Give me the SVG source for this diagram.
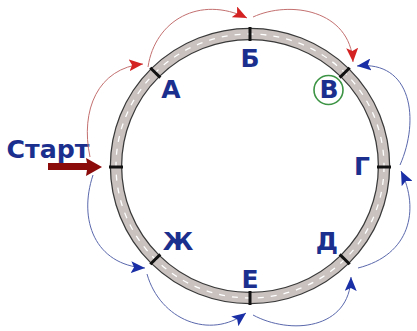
<svg xmlns="http://www.w3.org/2000/svg" width="417" height="331" viewBox="0 0 417 331">
<style>
.lbl{font-family:"DejaVu Sans","Liberation Sans",Arial,sans-serif;font-weight:bold;font-size:25px;fill:#1b2f8e;text-anchor:middle}
.red{fill:none;stroke:#c47070;stroke-width:1}
.blue{fill:none;stroke:#5a68ac;stroke-width:1}
.tick{stroke:#111;stroke-width:3}
</style>
<defs>
<marker id="ar" markerUnits="userSpaceOnUse" markerWidth="14" markerHeight="12" viewBox="0 0 14 12" refX="14" refY="6" orient="auto">
<path d="M0,0 L14,6 L0,12 L3,6 z" fill="#d42222"/>
</marker>
<marker id="ab" markerUnits="userSpaceOnUse" markerWidth="14" markerHeight="12" viewBox="0 0 14 12" refX="14" refY="6" orient="auto">
<path d="M0,0 L14,6 L0,12 L3,6 z" fill="#1a2fa6"/>
</marker>
</defs>
<rect width="417" height="331" fill="#fff"/>
<g id="road">
<ellipse cx="250" cy="166" rx="134" ry="132" fill="none" stroke="#3a3a3a" stroke-width="12.5"/>
<ellipse cx="250" cy="166" rx="134" ry="132" fill="none" stroke="#c9c2bf" stroke-width="10"/>
<ellipse cx="250" cy="166" rx="134" ry="132" fill="none" stroke="#fff" stroke-width="1.3" stroke-dasharray="6 7"/>
</g>
<g id="start">
<text x="48" y="158" class="lbl" font-size="21" textLength="83" lengthAdjust="spacingAndGlyphs">Старт</text>
<path d="M48,163 L87,163 L86,158 L102,167 L86,176 L87,170 L48,170 z" fill="#8b0a0a"/>
<line class="tick" x1="109" y1="167" x2="123" y2="167"/>
</g>
<g id="node-A">
<line class="tick" x1="150.3" y1="67.8" x2="160.3" y2="77.6"/>
<text x="171" y="98" class="lbl">А</text>
</g>
<g id="node-B">
<line class="tick" x1="250" y1="27" x2="250" y2="41"/>
<text x="250" y="67" class="lbl">Б</text>
</g>
<g id="node-V">
<line class="tick" x1="349.7" y1="67.8" x2="339.7" y2="77.6"/>
<circle cx="328.5" cy="90" r="14.5" fill="none" stroke="#3c9444" stroke-width="1.6"/>
<text x="329" y="98" class="lbl">В</text>
</g>
<g id="node-G">
<line class="tick" x1="377" y1="167" x2="391" y2="167"/>
<text x="362" y="175" class="lbl">Г</text>
</g>
<g id="node-D">
<line class="tick" x1="349.7" y1="264.2" x2="339.7" y2="254.4"/>
<text x="327" y="250" class="lbl">Д</text>
</g>
<g id="node-E">
<line class="tick" x1="250" y1="291" x2="250" y2="305"/>
<text x="250" y="288" class="lbl">Е</text>
</g>
<g id="node-Zh">
<line class="tick" x1="150.3" y1="264.2" x2="160.3" y2="254.4"/>
<text x="178" y="250" class="lbl">Ж</text>
</g>
<g id="connectors">
<path class="red" d="M90,157 C80,110 98,68 143,64" marker-end="url(#ar)"/>
<path class="red" d="M148,67 C155,20 200,-5 247,18" marker-end="url(#ar)"/>
<path class="red" d="M253,17 C290,0 350,10 353,62" marker-end="url(#ar)"/>
<path class="blue" d="M400,165 C420,120 412,60 357,66" marker-end="url(#ab)"/>
<path class="blue" d="M358,268 C410,255 420,210 401,171" marker-end="url(#ab)"/>
<path class="blue" d="M253,315 C290,335 350,330 351,277" marker-end="url(#ab)"/>
<path class="blue" d="M147,274 C160,320 210,340 246,313" marker-end="url(#ab)"/>
<path class="blue" d="M93,175 C78,220 95,265 145,268" marker-end="url(#ab)"/>
</g>
</svg>
